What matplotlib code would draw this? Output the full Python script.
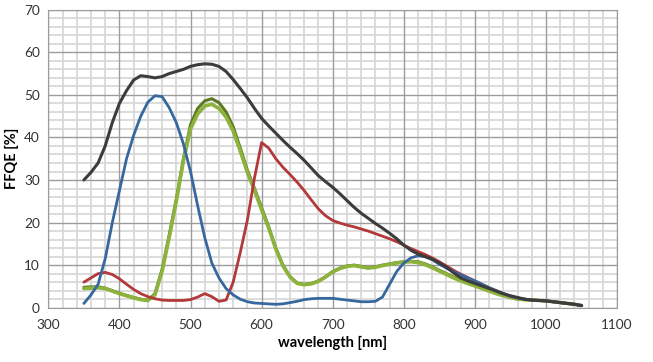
import numpy as np
import matplotlib.pyplot as plt
from matplotlib.ticker import MultipleLocator

plt.rcParams["font.family"] = ["Lato", "DejaVu Sans"]
plt.rcParams["lines.solid_joinstyle"] = "round"
plt.rcParams["lines.solid_capstyle"] = "round"

wavelength = list(range(350, 1051, 10))

# tail shared by all channels above ~970 nm
tail = [2.0, 1.8, 1.7, 1.6, 1.4, 1.2, 1.0, 0.8, 0.5]

mono = [30.0, 31.8, 34.0, 38.0, 43.5, 48.0, 51.0, 53.5, 54.5, 54.3,
        54.0, 54.3, 55.0, 55.5, 56.0, 56.7, 57.1, 57.3, 57.2, 56.7,
        55.5, 53.6, 51.5, 49.3, 46.8, 44.5, 42.7, 41.0, 39.3, 37.7,
        36.2, 34.6, 32.8, 31.0, 29.6, 28.3, 26.8, 25.2, 23.6, 22.2,
        21.0, 19.8, 18.7, 17.5, 16.2, 14.7, 13.5, 12.6, 12.0, 11.4,
        10.5, 9.5, 8.2, 7.0, 6.3, 5.7, 5.1, 4.5, 3.9, 3.3,
        2.8, 2.4] + tail

blue = [1.0, 3.0, 5.5, 11.5, 20.0, 27.5, 35.0, 40.5, 45.0, 48.3,
        49.8, 49.6, 47.0, 43.5, 38.5, 32.0, 24.0, 16.5, 10.5, 7.0,
        4.5, 3.0, 2.0, 1.4, 1.1, 1.0, 0.9, 0.8, 0.9, 1.2,
        1.5, 1.9, 2.1, 2.2, 2.2, 2.2, 2.0, 1.8, 1.6, 1.4,
        1.4, 1.5, 2.5, 5.5, 8.5, 10.5, 11.7, 12.2, 12.0, 11.3,
        10.2, 9.3, 8.5, 7.7, 7.0, 6.3, 5.5, 4.7, 4.0, 3.3,
        2.7, 2.3] + tail

red = [6.0, 7.0, 8.0, 8.3, 7.8, 6.8, 5.5, 4.3, 3.3, 2.6,
       2.1, 1.8, 1.7, 1.7, 1.7, 1.9, 2.5, 3.3, 2.6, 1.5,
       1.8, 6.0, 13.0, 20.6, 30.5, 38.8, 37.5, 35.0, 33.0, 31.3,
       29.5, 27.5, 25.3, 23.2, 21.6, 20.5, 19.9, 19.4, 19.0, 18.5,
       18.0, 17.4, 16.8, 16.2, 15.5, 14.7, 13.9, 13.2, 12.5, 11.7,
       10.8, 9.8, 8.8, 7.9, 7.1, 6.3, 5.5, 4.7, 4.0, 3.3,
       2.7, 2.3] + tail

green1 = [4.8, 4.9, 4.9, 4.6, 4.0, 3.4, 2.9, 2.4, 2.0, 1.8,
          3.3, 9.0, 17.0, 25.5, 35.0, 43.0, 46.8, 48.6, 49.1, 48.2,
          46.0, 42.5, 37.5, 32.3, 28.0, 23.5, 19.0, 14.0, 10.0, 7.3,
          5.8, 5.5, 5.7, 6.3, 7.3, 8.5, 9.3, 9.8, 10.0, 9.7,
          9.4, 9.6, 10.0, 10.3, 10.6, 10.8, 10.9, 10.8, 10.3, 9.6,
          8.8, 8.0, 7.2, 6.5, 5.9, 5.3, 4.7, 4.1, 3.5, 3.0,
          2.5, 2.1, 1.9, 1.8, 1.7, 1.6, 1.4, 1.2, 1.0, 0.8, 0.5]

green2 = [4.5, 4.6, 4.7, 4.5, 3.9, 3.3, 2.8, 2.3, 1.9, 1.7,
          3.0, 8.5, 16.5, 25.0, 34.5, 42.0, 45.5, 47.4, 47.8, 46.8,
          44.8, 41.5, 36.8, 31.8, 27.5, 23.0, 18.7, 13.8, 9.8, 7.2,
          5.7, 5.4, 5.6, 6.2, 7.2, 8.4, 9.2, 9.7, 9.9, 9.6,
          9.3, 9.5, 9.9, 10.2, 10.5, 10.7, 10.8, 10.6, 10.1, 9.4,
          8.6, 7.8, 7.0, 6.3, 5.7, 5.1, 4.5, 3.9, 3.3, 2.8,
          2.4, 2.0, 1.9, 1.8, 1.7, 1.6, 1.4, 1.2, 1.0, 0.8, 0.5]

fig = plt.figure(figsize=(6.53, 3.62), dpi=100)
ax = fig.add_axes([0.074, 0.15, 0.871, 0.823])

ax.plot(wavelength, green1, color="#5b7a23", linewidth=2.2)
ax.plot(wavelength, green2, color="#8db33c", linewidth=2.6)
ax.plot(wavelength, red, color="#b3383a", linewidth=2.0)
ax.plot(wavelength, blue, color="#36679f", linewidth=2.0)
ax.plot(wavelength, mono, color="#3c3c3c", linewidth=2.2)

ax.set_xlim(300, 1100)
ax.set_ylim(0, 70)
ax.xaxis.set_major_locator(MultipleLocator(100))
ax.xaxis.set_minor_locator(MultipleLocator(20))
ax.yaxis.set_major_locator(MultipleLocator(10))
ax.yaxis.set_minor_locator(MultipleLocator(2))

# light minor grid from the axis, darker major lines drawn over it
ax.grid(which="minor", color="#d6d6d6", linewidth=1.2)
ax.set_axisbelow(True)
ax.vlines(ax.get_xticks(), 0, 70, color="#9c9c9c", linewidth=1.0, zorder=0.8)
ax.hlines(ax.get_yticks(), 300, 1100, color="#9c9c9c", linewidth=1.0, zorder=0.8)
ax.set_xlim(300, 1100)
ax.set_ylim(0, 70)
for s in ax.spines.values():
    s.set_color("#9c9c9c")

ax.tick_params(which="both", length=0, labelsize=9.8, colors="#333333", pad=6)
ax.tick_params(axis="x", pad=8)

ax.set_xlabel("wavelength [nm]", fontsize=10.5, fontweight="bold", labelpad=4)
ax.set_ylabel("FFQE [%]", fontsize=10.5, fontweight="bold", labelpad=4)

fig.savefig("out.png", dpi=100)
